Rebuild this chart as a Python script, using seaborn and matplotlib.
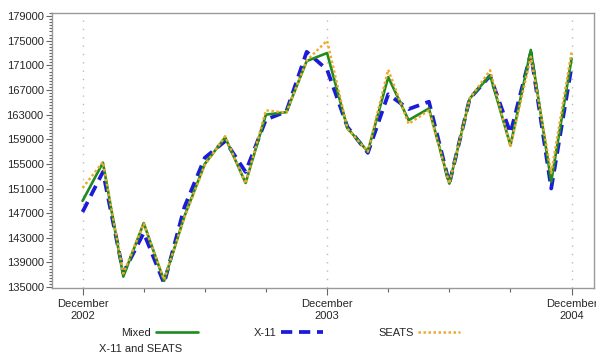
import matplotlib
matplotlib.use("Agg")
import matplotlib.pyplot as plt
import seaborn as sns
import pandas as pd
from matplotlib.ticker import MultipleLocator

# =============================================================================
# DATA: monthly values, December 2002 .. December 2004
# =============================================================================
month_index = list(range(25))
major_ticks = [0, 12, 24]
major_labels = ["December\n2002", "December\n2003", "December\n2004"]
y_ticks = list(range(135000, 179001, 4000))

mixed = [149000, 155200, 136700, 145400, 136000, 146500, 155000, 159300, 151900,
         163000, 163400, 171700, 173000, 160800, 157000, 169100, 162100, 164000,
         151800, 165600, 169400, 158000, 173500, 152100, 172100]
x11 = [147200, 153700, 137300, 143800, 135600, 148000, 156000, 158700, 153700,
       162200, 163500, 173200, 170300, 161000, 156800, 166300, 163900, 165100,
       151800, 165600, 169300, 160000, 173000, 151000, 170800]
seats = [151100, 155300, 137200, 145300, 136200, 146300, 154800, 159500, 151800,
         163700, 163300, 171800, 175000, 160700, 157000, 170300, 161500, 163700,
         151800, 165600, 170200, 157800, 172400, 153500, 173200]

df = pd.DataFrame({"Month": month_index, "Mixed": mixed, "X-11": x11, "SEATS": seats})

# =============================================================================
# PLOTTING
# =============================================================================
sns.set_style("white")
plt.rcParams['font.family'] = ['Liberation Sans', 'DejaVu Sans']
TICK_SIZE = 8

fig = plt.figure(figsize=(5.96, 3.64), dpi=100)
ax = fig.add_axes([52 / 596, 1 - 288 / 364, 542 / 596, 275 / 364])

for xv in major_ticks:
    ax.axvline(xv, color="#bbbbbb", linestyle=(0, (1, 5)), linewidth=1, zorder=1)

GREEN = "#1e8c1e"
BLUE = "#1c1cd8"
ORANGE = "#f0a830"
BLUE_DASH = (0, (3.0, 1.8))
ORANGE_DOT = (0, (1, 1))

sns.lineplot(data=df, x="Month", y="X-11", ax=ax, color=BLUE, linewidth=2.7,
             linestyle=BLUE_DASH, zorder=2)
sns.lineplot(data=df, x="Month", y="Mixed", ax=ax, color=GREEN, linewidth=1.9, zorder=3)
sns.lineplot(data=df, x="Month", y="SEATS", ax=ax, color=ORANGE, linewidth=1.8,
             linestyle=ORANGE_DOT, zorder=4)

ax.set_xlim(-1.5, 25.1)
ax.set_ylim(134850, 179500)
ax.set_xticks(major_ticks)
ax.set_xticklabels(major_labels, fontsize=TICK_SIZE)
ax.xaxis.set_minor_locator(MultipleLocator(3))
ax.set_yticks(y_ticks)
ax.set_yticklabels([str(v) for v in y_ticks], fontsize=TICK_SIZE)
ax.yaxis.set_minor_locator(MultipleLocator(500))
ax.set_xlabel("")
ax.set_ylabel("")

ax.tick_params(axis="both", which="both", direction="out", color="#666666", width=0.8)
ax.tick_params(axis="x", which="major", length=5, pad=3, bottom=True)
ax.tick_params(axis="x", which="minor", length=3, bottom=True)
ax.tick_params(axis="y", which="major", length=4, pad=2, left=True)
ax.tick_params(axis="y", which="minor", length=2, left=True)
for spine in ax.spines.values():
    spine.set_color("#999999")
    spine.set_linewidth(1)

handles = [
    plt.Line2D([], [], color=GREEN, linewidth=1.9),
    plt.Line2D([], [], color=BLUE, linewidth=2.7, linestyle=BLUE_DASH),
    plt.Line2D([], [], color=ORANGE, linewidth=1.8, linestyle=ORANGE_DOT),
]
fig.legend(handles, ["Mixed", "X-11", "SEATS"], loc="center", bbox_to_anchor=(291 / 596, 1 - 333 / 364),
           ncol=3, frameon=False, markerfirst=False, handlelength=3.8, handletextpad=0.4,
           columnspacing=5.0, fontsize=TICK_SIZE, borderpad=0, borderaxespad=0)
fig.text(141 / 596, 1 - 349 / 364, "X-11 and SEATS", ha="center", va="center", fontsize=TICK_SIZE)

plt.savefig("out.png", dpi=100)
plt.close(fig)
